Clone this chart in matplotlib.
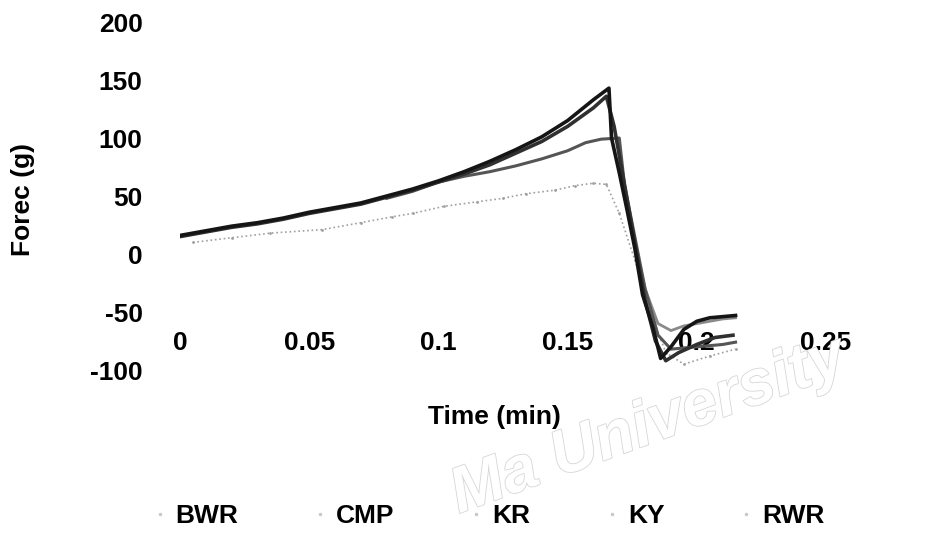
import matplotlib
matplotlib.use('Agg')
import matplotlib.pyplot as plt
import matplotlib.patheffects as pe
from matplotlib.lines import Line2D

plt.rcParams['font.family'] = ['Liberation Sans', 'DejaVu Sans']
plt.rcParams['font.weight'] = 'bold'
plt.rcParams['axes.unicode_minus'] = False

series_names = ['BWR', 'CMP', 'KR', 'KY', 'RWR']

time_bwr = [0, 0.01, 0.02, 0.03, 0.04, 0.05, 0.06, 0.07, 0.08, 0.09, 0.10, 0.11, 0.12, 0.13,
            0.14, 0.15, 0.16, 0.166, 0.167, 0.170, 0.173, 0.176, 0.179, 0.183, 0.186, 0.19,
            0.195, 0.20, 0.205, 0.21, 0.215]
force_bwr = [16, 20, 24, 27, 31, 36, 40, 44, 50, 56, 63, 71, 80, 90, 101, 115, 133, 143, 100,
             70, 38, 5, -35, -63, -90, -80, -65, -58, -55, -54, -53]

time_cmp = [0, 0.01, 0.02, 0.03, 0.04, 0.05, 0.06, 0.07, 0.08, 0.09, 0.10, 0.11, 0.12, 0.13,
            0.14, 0.15, 0.16, 0.165, 0.168, 0.172, 0.176, 0.180, 0.184, 0.188, 0.193, 0.20,
            0.207, 0.214]
force_cmp = [15, 19, 23, 26, 30, 35, 39, 43, 49, 55, 62, 69, 77, 87, 97, 110, 126, 136, 110,
             60, 10, -40, -75, -92, -85, -78, -72, -70]

time_kr = [0.08, 0.09, 0.10, 0.11, 0.12, 0.13, 0.14, 0.15, 0.157, 0.163, 0.170, 0.172,
           0.176, 0.180, 0.185, 0.19, 0.20, 0.21, 0.215]
force_kr = [48, 54, 62, 67, 71, 76, 82, 89, 96, 99, 100, 60, 15, -30, -70, -82, -80, -78, -76]

time_ky = [0.005, 0.02, 0.035, 0.055, 0.07, 0.082, 0.09, 0.102, 0.115, 0.125, 0.134, 0.145,
           0.153, 0.16, 0.165, 0.17, 0.176, 0.182, 0.188, 0.195, 0.205, 0.215]
force_ky = [10, 14, 18, 21, 27, 32, 35, 41, 45, 48, 52, 55, 59, 61, 60, 35, -5, -50, -85,
            -95, -88, -82]

time_rwr = [0.17, 0.175, 0.18, 0.185, 0.19, 0.195, 0.20, 0.205, 0.21, 0.215]
force_rwr = [80, 20, -30, -60, -66, -62, -60, -58, -56, -55]

x_ticks = [0, 0.05, 0.1, 0.15, 0.2, 0.25]
x_tick_labels = ['0', '0.05', '0.1', '0.15', '0.2', '0.25']
y_ticks = [-100, -50, 0, 50, 100, 150, 200]

fig = plt.figure(figsize=(9.26, 5.33), dpi=100)

# faint watermark behind everything
fig.text(0.70, 0.20, 'Ma University', fontsize=46, style='italic', rotation=20,
         color='white', ha='center', va='center', zorder=0,
         path_effects=[pe.Stroke(linewidth=1.2, foreground='#d6d6d6'), pe.Normal()])

ax = fig.add_axes([180 / 926, 1 - 370 / 533, 646 / 926, 348 / 533])
ax.patch.set_alpha(0)

ax.plot(time_ky, force_ky, color='#a0a0a0', lw=1.2, ls=':', marker='.', ms=2)
ax.plot(time_rwr, force_rwr, color='#8a8a8a', lw=2.0)
ax.plot(time_kr, force_kr, color='#555555', lw=2.2)
ax.plot(time_cmp, force_cmp, color='#303030', lw=2.6)
ax.plot(time_bwr, force_bwr, color='#151515', lw=2.6)

ax.set_xlim(0, 0.25)
ax.set_ylim(-100, 200)
for s in ['top', 'right', 'left']:
    ax.spines[s].set_visible(False)
ax.spines['bottom'].set_position(('data', -64))
ax.spines['bottom'].set_visible(False)

ax.set_xticks(x_ticks)
ax.set_xticklabels(x_tick_labels)
ax.set_yticks(y_ticks)
ax.tick_params(axis='x', length=0, pad=2, labelsize=19)
ax.tick_params(axis='y', length=0, pad=27, labelsize=19)

ax.set_xlabel('Time (min)', fontsize=19, fontweight='bold')
ax.xaxis.set_label_coords(0.486, -0.101)
ax.set_ylabel('Forec (g)', fontsize=19, fontweight='bold')
ax.yaxis.set_label_coords(-0.2245, 0.489)

handles = [Line2D([], [], ls='none', marker='.', ms=3, color='#c8c8c8') for _ in series_names]
fig.legend(handles, series_names, loc='center', ncol=5, frameon=False,
           bbox_to_anchor=(0.527, 1 - 516 / 533), fontsize=19,
           handlelength=0.6, handletextpad=0.3, columnspacing=2.8)

fig.savefig('out.png', dpi=100)
